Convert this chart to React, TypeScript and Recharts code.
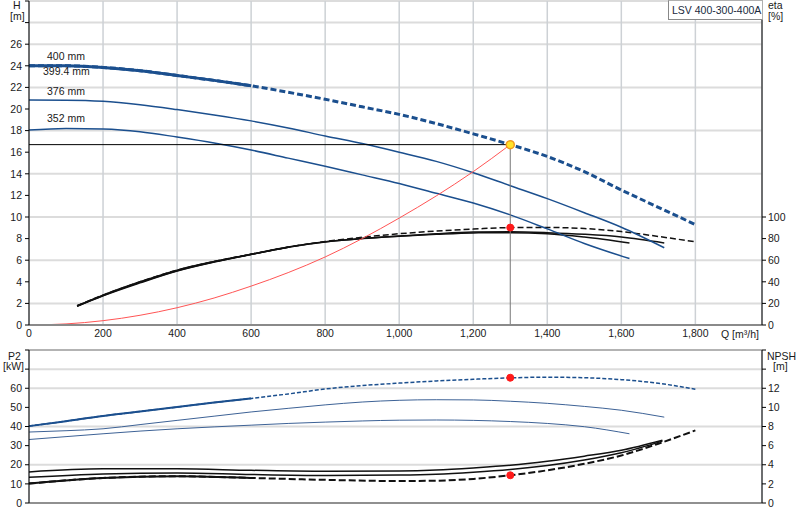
import { LineChart, Line, XAxis, YAxis, CartesianGrid, ReferenceDot, ReferenceLine } from "recharts"

const font = "'Liberation Sans', Arial, Helvetica, sans-serif"

// axis ticks
const flowTicks = [0, 200, 400, 600, 800, 1000, 1200, 1400, 1600, 1800]
const headTicks = [0, 2, 4, 6, 8, 10, 12, 14, 16, 18, 20, 22, 24, 26, 28, 30]
const etaTicks = [0, 20, 40, 60, 80, 100]
const powerTicks = [0, 10, 20, 30, 40, 50, 60, 70, 80]
const npshTicks = [0, 2, 4, 6, 8, 10, 12, 14, 16]

// duty point
const dutyFlow = 1300
const dutyHead = 16.7
const dutyEta = 90.2
const dutyPower = 65.5
const dutyNpsh = 2.9

// Q-H curves (m)
const flow400 = [0, 100, 200, 300, 400, 500, 600, 700, 800, 900, 1000, 1100, 1200, 1300, 1400, 1500, 1600, 1700, 1800]
const head400 = [24.0, 24.0, 23.85, 23.55, 23.1, 22.65, 22.15, 21.55, 20.9, 20.2, 19.5, 18.65, 17.7, 16.7, 15.6, 14.2, 12.5, 10.9, 9.3]
const flow376 = [0, 100, 200, 300, 400, 500, 600, 700, 800, 900, 1000, 1100, 1200, 1300, 1400, 1500, 1600, 1716]
const head376 = [20.83, 20.82, 20.72, 20.4, 19.95, 19.45, 18.9, 18.25, 17.5, 16.8, 16.0, 15.15, 14.1, 12.9, 11.7, 10.4, 9.05, 7.15]
const flow352 = [0, 100, 200, 300, 400, 500, 600, 700, 800, 900, 1000, 1100, 1200, 1300, 1400, 1500, 1622]
const head352 = [18.05, 18.2, 18.15, 17.9, 17.4, 16.85, 16.2, 15.45, 14.7, 13.9, 13.1, 12.2, 11.3, 10.2, 8.9, 7.55, 6.15]

// system curve
const sysFlow = [0, 100, 200, 300, 400, 500, 600, 700, 800, 900, 1000, 1100, 1200, 1300]
const sysHead = [0, 0.1, 0.4, 0.9, 1.6, 2.5, 3.6, 4.85, 6.3, 8.0, 9.9, 11.95, 14.2, 16.7]

// efficiency (%)
const etaFlow400 = [130, 200, 300, 400, 500, 600, 700, 800, 900, 1000, 1100, 1200, 1300, 1400, 1500, 1600, 1700, 1800]
const eta400 = [17.8, 27.7, 40, 50.8, 58.8, 65.5, 72, 77.3, 81.2, 84.5, 87, 88.8, 90.2, 90.3, 89.3, 86.5, 82, 77]
const etaFlow376 = [130, 200, 300, 400, 500, 600, 700, 800, 900, 1000, 1100, 1200, 1300, 1400, 1500, 1600, 1716]
const eta376 = [17.5, 27.3, 39.5, 50.3, 58.5, 65.5, 72.2, 77, 80.2, 82.4, 84.5, 86, 86.3, 85.5, 84, 81.5, 76]
const etaFlow352 = [130, 200, 300, 400, 500, 600, 700, 800, 900, 1000, 1100, 1200, 1300, 1400, 1500, 1622]
const eta352 = [17.3, 27, 39, 50, 58.3, 65.3, 72, 76.8, 80, 82.2, 84, 85.3, 85.5, 84.6, 81.5, 76]

// shaft power P2 (kW)
const p2_400 = [40.2, 42.8, 45.5, 47.8, 50.2, 52.5, 54.7, 57.0, 59.6, 61.4, 62.7, 63.8, 64.7, 65.4, 65.8, 65.5, 64.5, 62.6, 59.5]
const p2_376 = [37.1, 37.8, 38.8, 41.0, 43.2, 45.4, 47.6, 49.5, 51.3, 52.8, 53.7, 54.0, 53.9, 53.2, 52.1, 50.5, 48.5, 44.9]
const p2_352 = [33.2, 34.7, 36.2, 37.6, 38.8, 39.8, 40.7, 41.6, 42.3, 42.9, 43.3, 43.4, 43.2, 42.6, 41.6, 39.9, 36.2]

// NPSH (m)
const npshFlowA = [0, 200, 400, 600, 800, 1000, 1100, 1200, 1300, 1400, 1500, 1600, 1711]
const npshA = [3.25, 3.57, 3.57, 3.42, 3.32, 3.35, 3.45, 3.67, 3.95, 4.37, 4.9, 5.52, 6.57]
const npshB = [2.69, 3.04, 3.15, 2.98, 2.88, 2.92, 3.0, 3.21, 3.5, 3.92, 4.5, 5.25, 6.47]
const npshFlowC = [0, 200, 400, 600, 800, 1000, 1100, 1200, 1300, 1400, 1500, 1600, 1700, 1800]
const npshC = [2.03, 2.62, 2.8, 2.62, 2.42, 2.3, 2.33, 2.52, 2.9, 3.42, 4.1, 4.97, 6.2, 7.59]

const pts = (qs: number[], vs: number[]) => qs.map((q, i) => ({ q, v: vs[i] }))

const BLUE = "#1b4f8e"
const tickStyle = { fontSize: 10.5, fill: "#1a1a1a", fontFamily: font }

function TopChart() {
  return (
    <LineChart width={800} height={345} margin={{ top: 1, right: 0, bottom: 0, left: 0 }}>
      <CartesianGrid yAxisId="h" vertical={false} stroke="#dcdcdc" strokeWidth={2} />
      <CartesianGrid yAxisId="h" horizontal={false} stroke="#cdd1d5" strokeWidth={1.5} />
      <XAxis
        dataKey="q"
        type="number"
        domain={[0, 1980]}
        ticks={flowTicks}
        tickFormatter={(v) => v.toLocaleString("en-US")}
        height={20}
        tickLine={false}
        tickSize={3}
        axisLine={{ stroke: "#8a8a8a", strokeWidth: 2 }}
        tick={tickStyle}
      />
      <YAxis
        yAxisId="h"
        domain={[0, 30]}
        ticks={headTicks}
        width={29}
        tickSize={4}
        tickMargin={3}
        stroke="#000"
        tick={tickStyle}
        tickFormatter={(v) => (v > 26 ? "" : String(v))}
      />
      <YAxis
        yAxisId="eta"
        orientation="right"
        domain={[0, 300]}
        ticks={etaTicks}
        width={38}
        tickSize={4}
        tickMargin={2}
        stroke="#000"
        tick={tickStyle}
      />

      <Line yAxisId="eta" data={pts(etaFlow352, eta352)} dataKey="v" type="monotone" stroke="#111" strokeWidth={1.5} dot={false} isAnimationActive={false} />
      <Line yAxisId="eta" data={pts(etaFlow376, eta376)} dataKey="v" type="monotone" stroke="#111" strokeWidth={1.5} dot={false} isAnimationActive={false} />
      <Line yAxisId="eta" data={pts(etaFlow400.slice(0, 7), eta400.slice(0, 7))} dataKey="v" type="monotone" stroke="#111" strokeWidth={1.5} dot={false} isAnimationActive={false} />
      <Line yAxisId="eta" data={pts(etaFlow400, eta400)} dataKey="v" type="monotone" stroke="#111" strokeWidth={1.5} strokeDasharray="6 3" dot={false} isAnimationActive={false} />

      <Line yAxisId="h" data={pts(flow352, head352)} dataKey="v" type="monotone" stroke={BLUE} strokeWidth={1.5} dot={false} isAnimationActive={false} />
      <Line yAxisId="h" data={pts(flow376, head376)} dataKey="v" type="monotone" stroke={BLUE} strokeWidth={1.5} dot={false} isAnimationActive={false} />
      <Line yAxisId="h" data={pts(flow400.slice(0, 7), head400.slice(0, 7))} dataKey="v" type="monotone" stroke={BLUE} strokeWidth={3} dot={false} isAnimationActive={false} />
      <Line yAxisId="h" data={pts(flow400, head400)} dataKey="v" type="monotone" stroke={BLUE} strokeWidth={3} strokeDasharray="6 3" dot={false} isAnimationActive={false} />

      <Line yAxisId="h" data={pts(sysFlow, sysHead)} dataKey="v" type="monotone" stroke="#ff5555" strokeWidth={1} dot={false} isAnimationActive={false} />
      <Line yAxisId="h" data={pts([0, dutyFlow], [dutyHead, dutyHead])} dataKey="v" type="linear" stroke="#000" strokeWidth={1} dot={false} isAnimationActive={false} />
      <Line yAxisId="h" data={pts([dutyFlow, dutyFlow], [0, dutyHead])} dataKey="v" type="linear" stroke="#777" strokeWidth={1} dot={false} isAnimationActive={false} />

      <ReferenceDot yAxisId="eta" x={dutyFlow} y={dutyEta} r={3.5} fill="#ff1a1a" stroke="#ff1a1a" />
      <ReferenceDot yAxisId="h" x={dutyFlow} y={dutyHead} r={4} fill="#ffe22a" stroke="#f09a20" strokeWidth={1.5} />
    </LineChart>
  )
}

function BottomChart() {
  return (
    <LineChart width={800} height={175} margin={{ top: 5, right: 0, bottom: 0, left: 0 }}>
      <CartesianGrid yAxisId="p2" vertical={false} stroke="#dcdcdc" strokeWidth={2} />
      <CartesianGrid yAxisId="p2" horizontal={false} stroke="#cdd1d5" strokeWidth={1.5} />
      <XAxis
        dataKey="q"
        type="number"
        domain={[0, 1980]}
        ticks={flowTicks}
        height={17}
        tick={false}
        tickLine={false}
        axisLine={{ stroke: "#444", strokeWidth: 1 }}
      />
      <YAxis
        yAxisId="p2"
        domain={[0, 80]}
        ticks={powerTicks}
        width={29}
        tickSize={4}
        tickMargin={3}
        stroke="#000"
        tick={tickStyle}
        tickFormatter={(v) => (v > 60 ? "" : String(v))}
      />
      <YAxis
        yAxisId="npsh"
        orientation="right"
        domain={[0, 16]}
        ticks={npshTicks}
        width={38}
        tickSize={4}
        tickMargin={2}
        stroke="#000"
        tick={tickStyle}
        tickFormatter={(v) => (v > 12 ? "" : String(v))}
      />
      <ReferenceLine yAxisId="p2" y={80} stroke="#8a8a8a" strokeWidth={1} />

      <Line yAxisId="p2" data={pts(flow352, p2_352)} dataKey="v" type="monotone" stroke="#3d6296" strokeWidth={1} dot={false} isAnimationActive={false} />
      <Line yAxisId="p2" data={pts(flow376, p2_376)} dataKey="v" type="monotone" stroke="#3d6296" strokeWidth={1} dot={false} isAnimationActive={false} />
      <Line yAxisId="p2" data={pts(flow400.slice(0, 7), p2_400.slice(0, 7))} dataKey="v" type="monotone" stroke={BLUE} strokeWidth={2} dot={false} isAnimationActive={false} />
      <Line yAxisId="p2" data={pts(flow400, p2_400)} dataKey="v" type="monotone" stroke={BLUE} strokeWidth={1.5} strokeDasharray="4 2" dot={false} isAnimationActive={false} />

      <Line yAxisId="npsh" data={pts(npshFlowA, npshA)} dataKey="v" type="monotone" stroke="#111" strokeWidth={1.5} dot={false} isAnimationActive={false} />
      <Line yAxisId="npsh" data={pts(npshFlowA, npshB)} dataKey="v" type="monotone" stroke="#111" strokeWidth={1.5} dot={false} isAnimationActive={false} />
      <Line yAxisId="npsh" data={pts(npshFlowC.slice(0, 4), npshC.slice(0, 4))} dataKey="v" type="monotone" stroke="#111" strokeWidth={2} dot={false} isAnimationActive={false} />
      <Line yAxisId="npsh" data={pts(npshFlowC, npshC)} dataKey="v" type="monotone" stroke="#111" strokeWidth={2} strokeDasharray="7 3" dot={false} isAnimationActive={false} />

      <ReferenceDot yAxisId="p2" x={dutyFlow} y={dutyPower} r={3.5} fill="#ff1a1a" stroke="#ff1a1a" />
      <ReferenceDot yAxisId="npsh" x={dutyFlow} y={dutyNpsh} r={3.5} fill="#ff1a1a" stroke="#ff1a1a" />
    </LineChart>
  )
}

export default function App() {
  const txt = { fontSize: 10.5, fill: "#1a1a1a", fontFamily: font }
  return (
    <div style={{ position: "absolute", left: 0, top: 0, width: 800, height: 520, overflow: "hidden", background: "#fff", fontFamily: font }}>
      <div style={{ position: "absolute", left: 0, top: 0 }}>
        <TopChart />
      </div>
      <div style={{ position: "absolute", left: 0, top: 345 }}>
        <BottomChart />
      </div>
      <svg width={800} height={520} style={{ position: "absolute", left: 0, top: 0, zIndex: 5, pointerEvents: "none" }}>
        <text x={13} y={9} {...txt}>H</text>
        <text x={10} y={20} {...txt}>[m]</text>
        <text x={768} y={9} {...txt}>eta</text>
        <text x={768} y={20} {...txt}>[%]</text>
        <text x={47} y={60} {...txt}>400 mm</text>
        <text x={43} y={74.5} {...txt}>399.4 mm</text>
        <text x={47} y={95} {...txt}>376 mm</text>
        <text x={47} y={122} {...txt}>352 mm</text>
        <text x={721} y={338} {...txt}>Q [m³/h]</text>
        <text x={8} y={359.5} {...txt}>P2</text>
        <text x={3} y={370} {...txt}>[kW]</text>
        <text x={767} y={359.5} {...txt}>NPSH</text>
        <text x={773} y={370} {...txt}>[m]</text>
      </svg>
      <div
        style={{
          position: "absolute",
          zIndex: 6,
          left: 668,
          top: 0,
          width: 90,
          height: 18,
          background: "#fff",
          border: "1px solid #b0b0b0",
          borderLeftColor: "#888",
          borderBottomColor: "#888",
          fontSize: 10.5,
          color: "#1a2a40",
          lineHeight: "18px",
          paddingLeft: 3,
          whiteSpace: "nowrap",
        }}
      >
        LSV 400-300-400A
      </div>
    </div>
  )
}
